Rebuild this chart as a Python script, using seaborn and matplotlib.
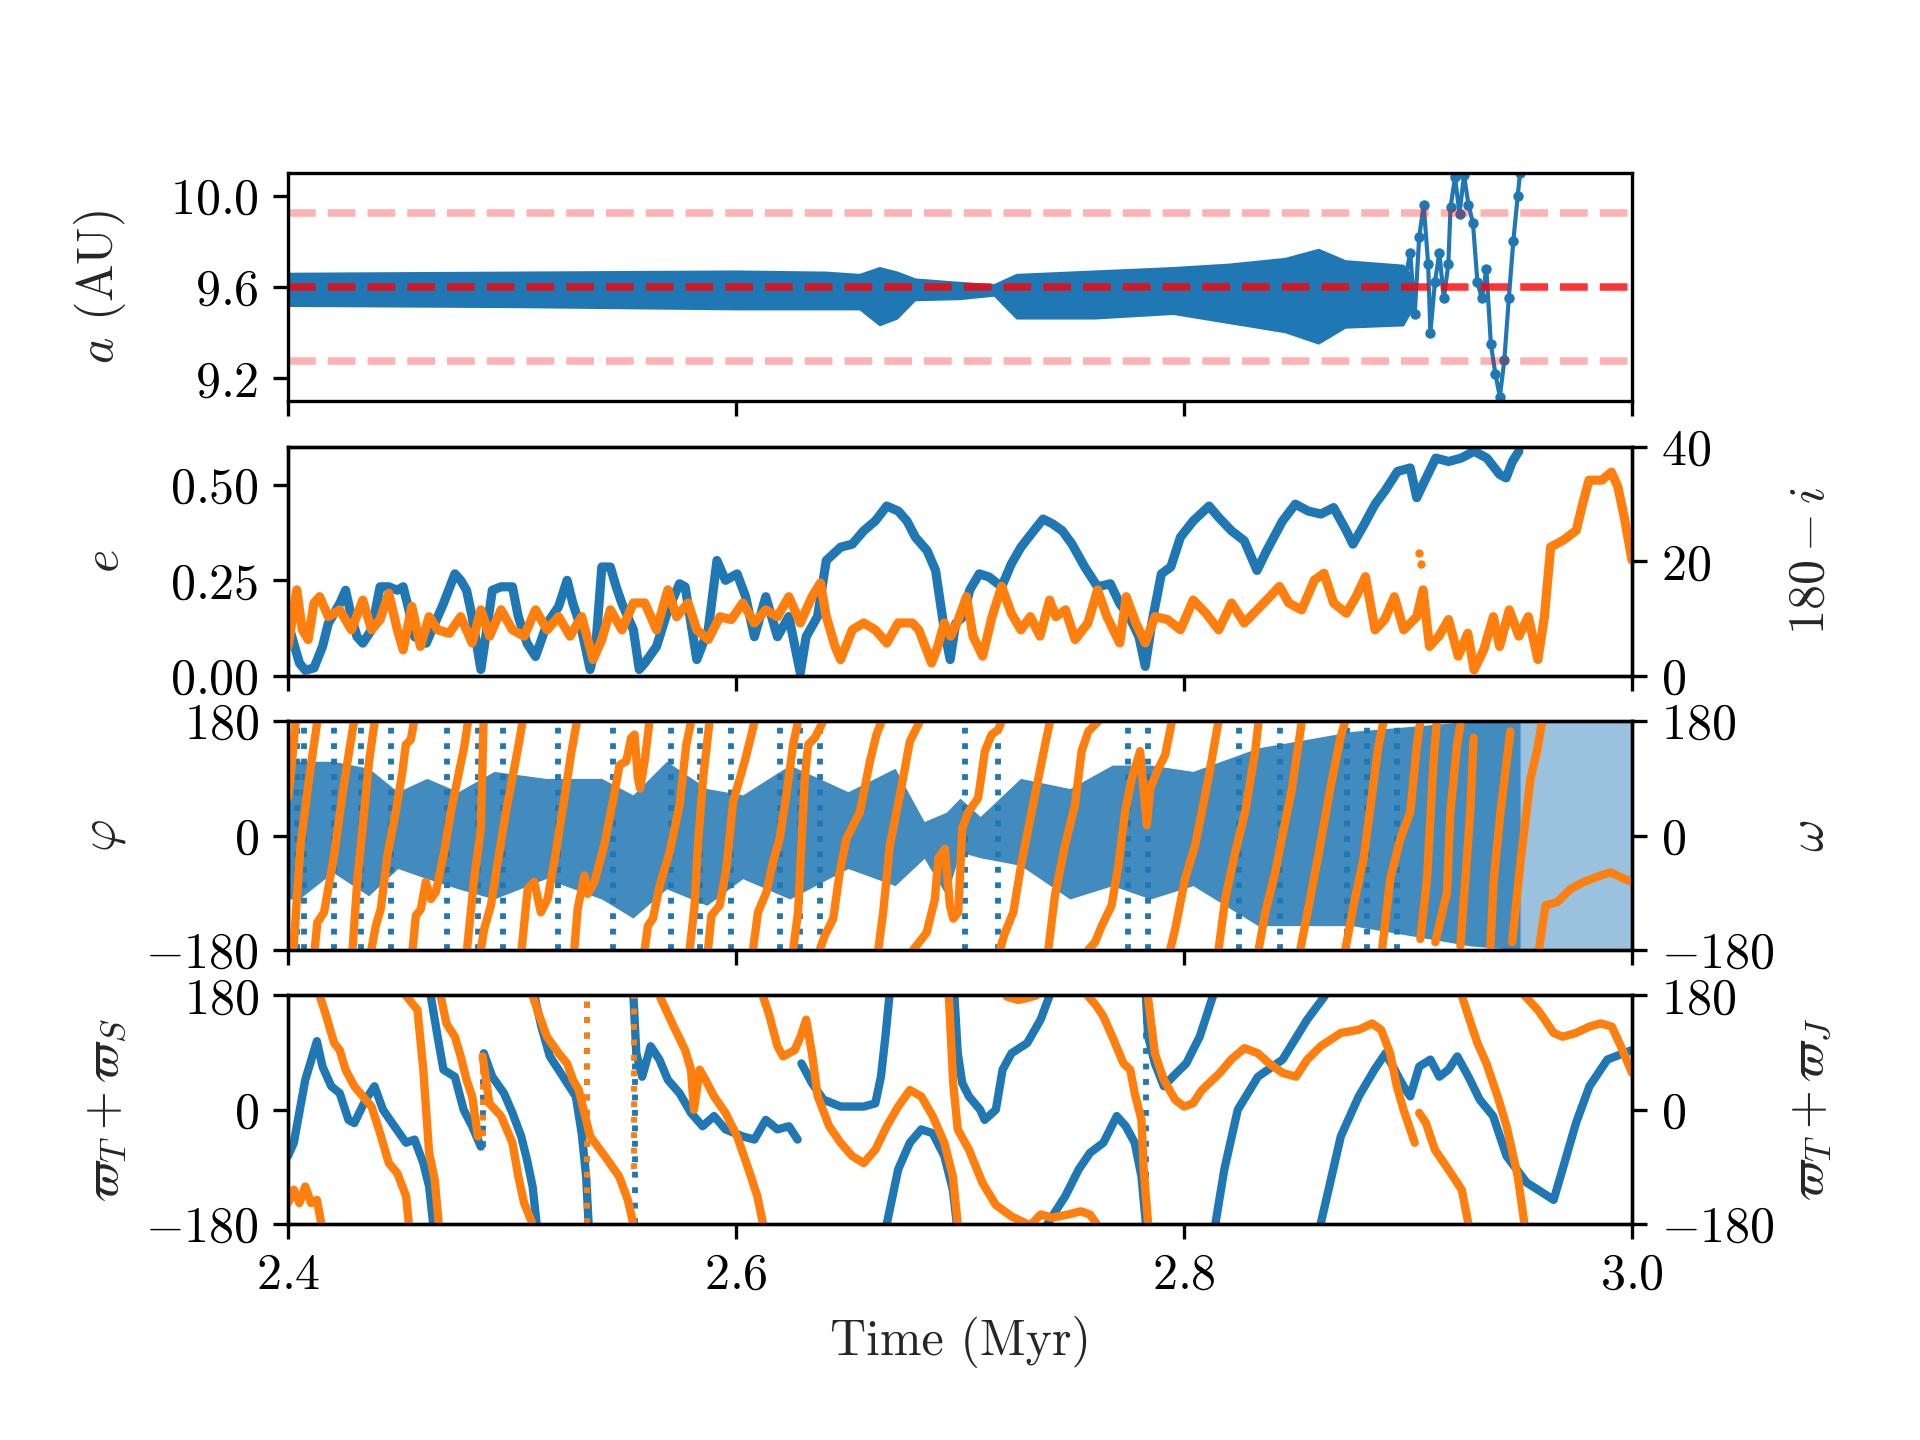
import matplotlib
matplotlib.use("Agg")
import matplotlib.pyplot as plt
import seaborn as sns

BLUE, ORANGE = sns.color_palette("tab10")[:2]

# ---- panel 1: semi-major axis (envelope of the dense oscillation) ----
a_time = [2.400, 2.500, 2.600, 2.640, 2.655, 2.664, 2.672, 2.680, 2.700, 2.715,
          2.725, 2.760, 2.795, 2.820, 2.845, 2.860, 2.872, 2.898, 2.902]
a_upper = [9.665, 9.67, 9.675, 9.67, 9.66, 9.69, 9.67, 9.64, 9.625, 9.615,
           9.66, 9.675, 9.69, 9.705, 9.73, 9.77, 9.72, 9.70, 9.65]
a_lower = [9.515, 9.51, 9.50, 9.50, 9.50, 9.43, 9.46, 9.54, 9.545, 9.56,
           9.46, 9.46, 9.48, 9.44, 9.40, 9.35, 9.42, 9.43, 9.50]
a_chaos_time = [2.898, 2.901, 2.903, 2.905, 2.907, 2.909, 2.910, 2.912, 2.914, 2.916,
                2.918, 2.919, 2.921, 2.923, 2.925, 2.927, 2.929, 2.931, 2.933, 2.935,
                2.937, 2.939, 2.941, 2.943, 2.945, 2.947, 2.949, 2.950]
a_chaos = [9.60, 9.75, 9.48, 9.82, 9.96, 9.70, 9.40, 9.62, 9.75, 9.55,
           9.70, 9.95, 10.08, 9.92, 10.09, 9.96, 9.88, 9.62, 9.55, 9.68,
           9.35, 9.22, 9.12, 9.28, 9.55, 9.80, 10.0, 10.1]
a_res = 9.6
a_res_width = 0.325

# ---- panel 2: eccentricity and 180 - i ----
e_time = [2.4000, 2.4051, 2.4077, 2.4116, 2.4154, 2.4180, 2.4231, 2.4257, 2.4283, 2.4308,
          2.4334, 2.4373, 2.4411, 2.4450, 2.4488, 2.4514, 2.4540, 2.4565, 2.4617, 2.4643,
          2.4694, 2.4745, 2.4771, 2.4797, 2.4822, 2.4861, 2.4887, 2.4912, 2.4951, 2.5002,
          2.5028, 2.5067, 2.5105, 2.5157, 2.5208, 2.5246, 2.5272, 2.5311, 2.5349, 2.5375,
          2.5401, 2.5439, 2.5465, 2.5491, 2.5542, 2.5568, 2.5593, 2.5645, 2.5696, 2.5748,
          2.5773, 2.5825, 2.5876, 2.5915, 2.5953, 2.6005, 2.6043, 2.6082, 2.6133, 2.6185,
          2.6236, 2.6287, 2.6313, 2.6364, 2.6403, 2.6467, 2.6519, 2.6570, 2.6622, 2.6673,
          2.6724, 2.6763, 2.6801, 2.6853, 2.6891, 2.6930, 2.6956, 2.6981, 2.7015, 2.7043,
          2.7086, 2.7129, 2.7186, 2.7229, 2.7272, 2.7329, 2.7371, 2.7414, 2.7457, 2.7500,
          2.7557, 2.7614, 2.7671, 2.7713, 2.7756, 2.7799, 2.7827, 2.7856, 2.7899, 2.7941,
          2.7984, 2.8041, 2.8112, 2.8155, 2.8212, 2.8269, 2.8326, 2.8369, 2.8440, 2.8497,
          2.8554, 2.8611, 2.8668, 2.8725, 2.8754, 2.8797, 2.8853, 2.8896, 2.8953, 2.9010,
          2.9039, 2.9067, 2.9124, 2.9181, 2.9238, 2.9295, 2.9352, 2.9409, 2.9438, 2.9466,
          2.9495]
e_vals = [0.137, 0.033, 0.014, 0.020, 0.076, 0.137, 0.189, 0.224, 0.155, 0.102,
          0.085, 0.120, 0.233, 0.233, 0.224, 0.233, 0.172, 0.102, 0.085, 0.120,
          0.189, 0.267, 0.250, 0.224, 0.155, 0.016, 0.120, 0.224, 0.233, 0.233,
          0.155, 0.085, 0.050, 0.137, 0.181, 0.250, 0.189, 0.120, 0.016, 0.085,
          0.285, 0.285, 0.233, 0.189, 0.120, 0.016, 0.033, 0.076, 0.172, 0.241,
          0.233, 0.042, 0.120, 0.302, 0.250, 0.267, 0.207, 0.102, 0.207, 0.102,
          0.155, 0.007, 0.102, 0.155, 0.302, 0.337, 0.345, 0.380, 0.406, 0.445,
          0.432, 0.406, 0.363, 0.328, 0.276, 0.120, 0.042, 0.137, 0.155, 0.224,
          0.267, 0.259, 0.233, 0.293, 0.337, 0.380, 0.411, 0.398, 0.380, 0.345,
          0.285, 0.233, 0.241, 0.189, 0.155, 0.102, 0.024, 0.137, 0.267, 0.285,
          0.363, 0.406, 0.445, 0.415, 0.380, 0.354, 0.276, 0.328, 0.406, 0.450,
          0.432, 0.424, 0.441, 0.380, 0.345, 0.389, 0.450, 0.484, 0.536, 0.545,
          0.467, 0.502, 0.571, 0.562, 0.571, 0.589, 0.571, 0.528, 0.519, 0.562,
          0.589]
inc_time = [2.4000, 2.4021, 2.4039, 2.4064, 2.4090, 2.4116, 2.4141, 2.4180, 2.4231, 2.4283,
            2.4334, 2.4373, 2.4411, 2.4450, 2.4488, 2.4514, 2.4553, 2.4591, 2.4630, 2.4668,
            2.4720, 2.4771, 2.4822, 2.4861, 2.4900, 2.4951, 2.5002, 2.5054, 2.5105, 2.5157,
            2.5208, 2.5259, 2.5311, 2.5362, 2.5401, 2.5439, 2.5491, 2.5542, 2.5593, 2.5645,
            2.5696, 2.5735, 2.5786, 2.5825, 2.5876, 2.5928, 2.5979, 2.6030, 2.6082, 2.6133,
            2.6185, 2.6236, 2.6287, 2.6339, 2.6377, 2.6403, 2.6442, 2.6467, 2.6519, 2.6570,
            2.6622, 2.6673, 2.6724, 2.6787, 2.6816, 2.6873, 2.6901, 2.6930, 2.6958, 2.6987,
            2.7029, 2.7058, 2.7101, 2.7143, 2.7186, 2.7229, 2.7272, 2.7314, 2.7357, 2.7400,
            2.7428, 2.7471, 2.7514, 2.7571, 2.7614, 2.7656, 2.7713, 2.7742, 2.7785, 2.7827,
            2.7870, 2.7927, 2.7984, 2.8041, 2.8098, 2.8155, 2.8212, 2.8269, 2.8326, 2.8383,
            2.8426, 2.8468, 2.8525, 2.8582, 2.8625, 2.8668, 2.8725, 2.8768, 2.8810, 2.8853,
            2.8896, 2.8939, 2.8981, 2.9039, 2.9067, 2.9096, 2.9138, 2.9181, 2.9224, 2.9267,
            2.9295, 2.9338, 2.9381, 2.9409, 2.9452, 2.9495, 2.9537, 2.9580, 2.9609, 2.9637,
            2.9694, 2.9751, 2.9780, 2.9808, 2.9865, 2.9908, 2.9937, 2.9965, 3.0000]
inc_vals = [5.1, 10.3, 15.0, 8.0, 6.3, 12.7, 13.8, 10.3, 11.5, 8.0,
            13.2, 8.0, 9.8, 14.4, 8.0, 4.5, 12.1, 5.1, 10.3, 8.0,
            7.4, 10.3, 5.7, 11.5, 6.9, 11.5, 8.0, 6.9, 11.5, 8.0,
            10.3, 6.9, 10.3, 2.8, 6.3, 11.5, 8.0, 12.7, 12.7, 8.0,
            15.0, 10.3, 12.7, 8.0, 6.3, 10.3, 9.8, 12.7, 9.2, 11.5,
            10.3, 13.8, 9.2, 13.8, 16.2, 10.3, 5.1, 2.8, 8.0, 9.2,
            8.0, 5.7, 9.2, 9.2, 8.0, 2.2, 5.1, 9.2, 6.9, 9.2,
            13.8, 6.9, 3.4, 10.3, 15.6, 10.9, 8.0, 10.3, 6.9, 13.2,
            10.3, 11.5, 6.3, 9.2, 15.0, 10.3, 5.7, 13.8, 9.2, 5.7,
            10.3, 9.8, 8.0, 13.2, 10.9, 8.0, 12.7, 9.2, 11.5, 13.8,
            15.6, 12.7, 11.5, 16.7, 17.9, 12.7, 10.9, 13.8, 17.3, 8.0,
            9.8, 13.8, 8.0, 10.3, 15.0, 5.1, 6.9, 9.8, 3.4, 7.4,
            1.0, 4.5, 10.3, 5.1, 11.5, 6.9, 10.3, 2.8, 10.3, 22.5,
            23.7, 25.4, 30.1, 34.2, 34.2, 35.6, 33.0, 27.8, 20.2]
inc_stray_time = [2.9050, 2.9058]
inc_stray = [21.5, 19.5]

# ---- panel 3: resonant angle (libration envelope + circulation streaks) and omega ----
phi_time = [2.400, 2.405, 2.420, 2.436, 2.449, 2.462, 2.476, 2.492, 2.515, 2.540,
            2.554, 2.569, 2.587, 2.603, 2.624, 2.650, 2.671, 2.684, 2.694, 2.700,
            2.709, 2.727, 2.749, 2.768, 2.785, 2.804, 2.833, 2.875, 2.928, 2.950]
phi_upper = [117, 117, 117, 106, 69, 90, 69, 101, 90, 90,
             64, 117, 74, 64, 111, 69, 106, 22, 37, 59,
             30, 90, 74, 111, 111, 101, 138, 164, 180, 180]
phi_lower = [-100, -100, -58, -95, -52, -68, -84, -100, -68, -100,
             -130, -84, -110, -68, -100, -52, -79, -36, -95, -26,
             -35, -47, -100, -79, -100, -79, -142, -142, -174, -180]
phi_chaos_time = [2.950, 3.000]
phi_streaks = [2.4042, 2.4071, 2.4206, 2.4325, 2.4459, 2.4712, 2.4846, 2.4958, 2.5204,
               2.5450, 2.5711, 2.5838, 2.5979, 2.6195, 2.6285, 2.6374, 2.7022, 2.7171,
               2.7752, 2.7841, 2.8244, 2.8430, 2.8727, 2.8817, 2.8951]

omega_segments = [
    [(2.400, 60), (2.4009, 82), (2.4034, 180)],
    [(2.4024, -180), (2.4056, -15), (2.4094, 90), (2.4131, 180)],
    [(2.4119, -180), (2.4131, -137), (2.4161, -121), (2.4206, -31), (2.4243, 64), (2.4273, 133), (2.4295, 180)],
    [(2.4288, -180), (2.4310, -68), (2.4340, 37), (2.4362, 117), (2.4387, 180)],
    [(2.4372, -180), (2.4392, -142), (2.4414, -116), (2.4444, -31), (2.4481, 37), (2.4511, 101),
     (2.4526, 143), (2.4548, 151), (2.4563, 180)],
    [(2.4556, -180), (2.4571, -126), (2.4593, -116), (2.4615, -73), (2.4638, -100), (2.4660, -89),
     (2.4697, -26), (2.4727, 37), (2.4764, 101), (2.4786, 138), (2.4804, 180)],
    [(2.4799, -180), (2.4831, -68), (2.4861, 11), (2.4873, 180)],
    [(2.4861, -180), (2.4876, -147), (2.4906, -110), (2.4936, -42), (2.4973, 37), (2.5010, 106),
     (2.5032, 148), (2.5047, 180)],
    [(2.5043, -180), (2.5070, -84), (2.5099, -73), (2.5129, -121), (2.5159, -100), (2.5196, -26),
     (2.5234, 59), (2.5263, 127), (2.5290, 180)],
    [(2.5278, -180), (2.5293, -116), (2.5323, -63), (2.5338, -92), (2.5368, -73), (2.5412, -15),
     (2.5450, 53), (2.5480, 111), (2.5510, 117), (2.5532, 154), (2.5547, 159), (2.5562, 90),
     (2.5572, 74), (2.5592, 117), (2.5614, 180)],
    [(2.5592, -180), (2.5607, -142), (2.5629, -131), (2.5659, -79), (2.5704, -26), (2.5748, 48),
     (2.5778, 143), (2.5800, 180)],
    [(2.5793, -180), (2.5815, -110), (2.5830, -15), (2.5853, 90), (2.5882, 180)],
    [(2.5875, -180), (2.5890, -126), (2.5927, -110), (2.5957, -52), (2.5987, 53), (2.6039, 117),
     (2.6069, 159), (2.6083, 180)],
    [(2.6076, -180), (2.6098, -121), (2.6136, -89), (2.6165, -42), (2.6195, -5), (2.6225, 64),
     (2.6255, 143), (2.6277, 180)],
    [(2.6255, -180), (2.6277, -121), (2.6292, -15), (2.6307, 90), (2.6322, 143), (2.6352, 154),
     (2.6374, 169), (2.6389, 180)],
    [(2.6374, -180), (2.6396, -158), (2.6434, -131), (2.6463, -58), (2.6493, -5), (2.6553, 37),
     (2.6598, 117), (2.6627, 159), (2.6650, 180)],
    [(2.6635, -180), (2.6657, -121), (2.6687, -15), (2.6732, 64), (2.6776, 148), (2.6821, 180)],
    [(2.6791, -180), (2.6851, -153), (2.6888, -100), (2.6903, -36), (2.6933, -21), (2.6955, -110),
     (2.6970, -131), (2.6992, -121), (2.7010, 11), (2.7037, 37), (2.7081, 59), (2.7111, 133),
     (2.7141, 159), (2.7171, 167), (2.7186, 180)],
    [(2.7178, -180), (2.7201, -153), (2.7238, -121), (2.7275, -42), (2.7335, 64), (2.7380, 143), (2.7402, 180)],
    [(2.7394, -180), (2.7424, -94), (2.7469, -15), (2.7513, 48), (2.7543, 133), (2.7573, 164),
     (2.7603, 175), (2.7618, 180)],
    [(2.7573, -180), (2.7603, -168), (2.7633, -142), (2.7677, -110), (2.7707, -47), (2.7737, 37),
     (2.7767, 90), (2.7804, 133), (2.7834, 16), (2.7849, 74), (2.7886, 106), (2.7916, 127), (2.7946, 180)],
    [(2.7938, -180), (2.7961, -147), (2.8005, -68), (2.8050, -15), (2.8109, 90), (2.8154, 180)],
    [(2.8154, -180), (2.8184, -100), (2.8229, -26), (2.8273, 37), (2.8318, 133), (2.8333, 180)],
    [(2.8333, -180), (2.8363, -121), (2.8407, -58), (2.8452, 22), (2.8480, 70), (2.8504, 127), (2.8526, 180)],
    [(2.8519, -180), (2.8563, -100), (2.8608, -15), (2.8653, 74), (2.8698, 154), (2.8720, 180)],
    [(2.8720, -180), (2.8757, -110), (2.8802, -36), (2.8839, 64), (2.8869, 143), (2.8891, 180)],
    [(2.8884, -180), (2.8921, -68), (2.8966, -5), (2.9010, 37), (2.9040, 143), (2.9055, 180)],
    [(2.9055, -163), (2.9085, -68), (2.9114, 117), (2.9129, 180)],
    [(2.9122, -168), (2.9174, -89), (2.9189, 37), (2.9219, 143), (2.9234, 175)],
    [(2.9234, -174), (2.9278, 37), (2.9293, 154)],
    [(2.9368, -174), (2.9383, -68), (2.9413, 37), (2.9457, 164)],
    [(2.9465, -168), (2.9502, -42), (2.9547, 90), (2.9576, 133), (2.9599, 180)],
    [(2.9584, -180), (2.9614, -110), (2.9666, -105), (2.9726, -84), (2.9785, -73), (2.9860, -63),
     (2.9904, -58), (2.9964, -68), (3.0, -73)],
]

# ---- panel 4: varpi_T + varpi_S (blue) and varpi_T + varpi_J (orange) ----
pomS_segments = [
    [(2.4, -73), (2.4026, -52), (2.4077, 47), (2.4129, 108), (2.4154, 68), (2.4193, 37), (2.4231, 26),
     (2.4270, -16), (2.4296, -21), (2.4347, 16), (2.4386, 37), (2.4424, 0), (2.4475, -26), (2.4527, -52),
     (2.4565, -47), (2.4604, -84), (2.4630, -121), (2.4648, -180)],
    [(2.4637, 180), (2.4668, 115), (2.4694, 63), (2.4745, 52), (2.4784, 0), (2.4822, -26), (2.4861, -58)],
    [(2.4874, 89), (2.4912, 52), (2.4964, 26), (2.5002, -5), (2.5041, -42), (2.5067, -79), (2.5092, -121),
     (2.5110, -180)],
    [(2.5100, 180), (2.5131, 131), (2.5169, 84), (2.5208, 63), (2.5246, 42), (2.5285, 21), (2.5311, -37),
     (2.5331, -105), (2.5342, -180)],
    [(2.5542, 180), (2.5555, 89), (2.5581, 52), (2.5619, 100), (2.5658, 79), (2.5696, 47), (2.5748, 26),
     (2.5799, -5), (2.5851, -26), (2.5902, -10), (2.5953, -31), (2.6030, -42), (2.6082, -47), (2.6133, -16),
     (2.6185, -31), (2.6236, -26), (2.6275, -47)],
    [(2.6292, 73), (2.6339, 42), (2.6390, 16), (2.6467, 5), (2.6570, 5), (2.6622, 10), (2.6647, 52),
     (2.6667, 115), (2.6685, 180)],
    [(2.6673, -180), (2.6724, -94), (2.6776, -52), (2.6827, -31), (2.6878, -37), (2.6930, -73),
     (2.6968, -126), (2.6986, -180)],
    [(2.6975, 180), (2.6990, 89), (2.7010, 42), (2.7040, 21), (2.7090, 0), (2.7110, -16), (2.7160, 0),
     (2.7190, 63), (2.7230, 89), (2.7300, 105), (2.7360, 142), (2.7400, 180)],
    [(2.7390, -180), (2.7470, -136), (2.7530, -94), (2.7580, -68), (2.7640, -52), (2.7700, -10),
     (2.7740, -26), (2.7780, -52), (2.7810, -105), (2.7830, -180)],
    [(2.7830, 180), (2.7840, 115), (2.7870, 73), (2.7910, 37), (2.7950, 52), (2.8010, 73), (2.8070, 115),
     (2.8130, 180)],
    [(2.8140, -180), (2.8180, -94), (2.8240, 0), (2.8330, 52), (2.8440, 79), (2.8550, 142), (2.8630, 180)],
    [(2.8610, -180), (2.8700, -42), (2.8780, 21), (2.8850, 63), (2.8900, 89), (2.8940, 63), (2.8980, 37),
     (2.9010, 21), (2.9050, 68), (2.9100, 79), (2.9140, 52), (2.9180, 63), (2.9220, 84), (2.9270, 52),
     (2.9320, 16), (2.9380, -10), (2.9440, -73), (2.9530, -115), (2.9580, -126), (2.9650, -142),
     (2.9690, -94), (2.9750, -21), (2.9810, 37), (2.9890, 79), (3.0, 94)],
]
pomJ_segments = [
    [(2.4, -147), (2.4026, -126), (2.4051, -147), (2.4077, -121), (2.4103, -147), (2.4129, -142), (2.4149, -180)],
    [(2.4141, 180), (2.4167, 152), (2.4206, 105), (2.4231, 94), (2.4257, 63), (2.4296, 37), (2.4334, 21),
     (2.4373, 5), (2.4411, -37), (2.4450, -84), (2.4488, -100), (2.4527, -136), (2.4540, -180)],
    [(2.4527, 180), (2.4553, 168), (2.4578, 157), (2.4604, 63), (2.4630, -68), (2.4655, -110), (2.4673, -180)],
    [(2.4681, 180), (2.4707, 136), (2.4745, 115), (2.4771, 84), (2.4797, 47), (2.4822, 21), (2.4848, -42)],
    [(2.4869, 84), (2.4899, 10), (2.4951, -10), (2.5002, -52), (2.5028, -105), (2.5054, -147), (2.5092, -180)],
    [(2.5092, 180), (2.5118, 152), (2.5156, 115), (2.5208, 89), (2.5246, 73), (2.5272, 47), (2.5298, 31),
     (2.5349, -42), (2.5414, -73), (2.5478, -105), (2.5517, -142), (2.5542, -180)],
    [(2.5658, 180), (2.5722, 131), (2.5773, 94), (2.5799, 63), (2.5812, 0), (2.5838, 63), (2.5864, 47),
     (2.5902, 21), (2.5953, -5), (2.6005, -42), (2.6056, -94), (2.6095, -136), (2.6121, -180)],
    [(2.6121, 178), (2.6146, 152), (2.6185, 100), (2.6210, 84), (2.6262, 94), (2.6288, 115), (2.6313, 142),
     (2.6339, 89), (2.6365, 21), (2.6416, -26), (2.6467, -52), (2.6519, -73), (2.6570, -84), (2.6622, -63),
     (2.6673, -26), (2.6724, 5), (2.6776, 31), (2.6827, 21), (2.6878, -10), (2.6930, -52), (2.6968, -105),
     (2.6990, -180)],
    [(2.6950, 180), (2.6970, 40), (2.6990, -31), (2.7040, -63), (2.7100, -115), (2.7160, -150),
     (2.7230, -168), (2.7300, -180)],
    [(2.7320, -180), (2.7360, -165), (2.7410, -170), (2.7470, -166), (2.7540, -160), (2.7580, -165), (2.7610, -180)],
    [(2.7210, 178), (2.7260, 173), (2.7300, 176), (2.7340, 180)],
    [(2.7570, 180), (2.7610, 163), (2.7640, 147), (2.7680, 115), (2.7730, 73), (2.7760, 63), (2.7780, 26),
     (2.7810, -16), (2.7820, -94), (2.7840, -180)],
    [(2.7840, 175), (2.7870, 89), (2.7910, 47), (2.7960, 16), (2.8000, 5), (2.8040, 10), (2.8080, 31),
     (2.8160, 58), (2.8210, 79), (2.8270, 97), (2.8330, 89), (2.8380, 73), (2.8440, 58), (2.8500, 52),
     (2.8550, 79), (2.8610, 100), (2.8700, 121), (2.8780, 126), (2.8840, 136), (2.8880, 126), (2.8920, 89),
     (2.8950, 37), (2.8980, 0), (2.9010, -31), (2.9030, -52)],
    [(2.9050, -5), (2.9080, -21), (2.9120, -63), (2.9180, -94), (2.9240, -126), (2.9270, -180)],
    [(2.9240, 180), (2.9270, 147), (2.9310, 105), (2.9350, 73), (2.9400, 21), (2.9440, -26), (2.9470, -73),
     (2.9490, -105), (2.9520, -180)],
    [(2.9520, 180), (2.9580, 157), (2.9610, 142), (2.9650, 121), (2.9690, 115), (2.9750, 121), (2.9810, 131),
     (2.9860, 136), (2.9910, 131), (2.9950, 100), (3.0, 58)],
]
# fast transits drawn as dotted vertical streaks: (time, bottom, top)
pomS_streaks = [(2.4869, -58, 89), (2.5336, -180, 180), (2.5548, -180, 180), (2.7830, -180, 180)]
pomJ_streaks = [(2.4869, -42, 84), (2.5336, -180, 180), (2.5545, -94, 180)]

xticks = [2.4, 2.6, 2.8, 3.0]

sns.set_theme(style="ticks", rc={
    "axes.edgecolor": "black", "axes.linewidth": 0.8,
    "xtick.color": "black", "ytick.color": "black",
    "xtick.major.size": 3.5, "ytick.major.size": 3.5,
    "xtick.major.width": 0.8, "ytick.major.width": 0.8,
    "xtick.labelsize": 12, "ytick.labelsize": 12, "axes.labelsize": 12,
})
plt.rcParams["font.family"] = ["cmr10"]
plt.rcParams["mathtext.fontset"] = "cm"
plt.rcParams["axes.formatter.use_mathtext"] = True


def draw_segments(ax, segments, color):
    for seg in segments:
        t = [p[0] for p in seg]
        v = [p[1] for p in seg]
        sns.lineplot(x=t, y=v, ax=ax, color=color, linewidth=2, sort=False,
                     estimator=None, errorbar=None)


def draw_streaks(ax, streaks, color):
    for t, lo, hi in streaks:
        ax.vlines(t, lo, hi, color=color, lw=1.4, linestyles=":")


fig, axes = plt.subplots(4, 1, sharex=True, figsize=(6.4, 4.8), dpi=300)
fig.subplots_adjust(left=0.15, right=0.85, top=0.88, bottom=0.15, hspace=0.2)
ax1, ax2, ax3, ax4 = axes

# panel 1
ax1.fill_between(a_time, a_lower, a_upper, color=BLUE, lw=0)
sns.lineplot(x=a_chaos_time, y=a_chaos, ax=ax1, color=BLUE, linewidth=1.0, marker="o",
             markersize=2.5, markeredgewidth=0, sort=False, estimator=None, errorbar=None)
ax1.axhline(a_res, color="red", alpha=0.8, ls="--", lw=1.8)
ax1.axhline(a_res + a_res_width, color="red", alpha=0.3, ls="--", lw=1.8)
ax1.axhline(a_res - a_res_width, color="red", alpha=0.3, ls="--", lw=1.8)
ax1.set_ylim(9.1, 10.1)
ax1.set_yticks([9.2, 9.6, 10.0])
ax1.set_ylabel("$a$ (AU)")

# panel 2
sns.lineplot(x=e_time, y=e_vals, ax=ax2, color=BLUE, linewidth=2.2, sort=False,
             estimator=None, errorbar=None)
ax2.set_ylim(0, 0.6)
ax2.set_yticks([0, 0.25, 0.5])
ax2.set_ylabel("$e$")
tw2 = ax2.twinx()
sns.lineplot(x=inc_time, y=inc_vals, ax=tw2, color=ORANGE, linewidth=2.2, sort=False,
             estimator=None, errorbar=None)
tw2.scatter(inc_stray_time, inc_stray, color=ORANGE, s=4, lw=0)
tw2.set_ylim(0, 40)
tw2.set_yticks([0, 20, 40])
tw2.set_ylabel("$180 - i$", labelpad=3)

# panel 3
ax3.fill_between(phi_time, phi_lower, phi_upper, color=BLUE, alpha=0.85, lw=0)
ax3.fill_between(phi_chaos_time, [-180, -180], [180, 180], color=BLUE, alpha=0.45, lw=0)
ax3.vlines(phi_streaks, -180, 180, color=BLUE, lw=1.4, linestyles=":")
ax3.set_ylim(-180, 180)
ax3.set_yticks([-180, 0, 180])
ax3.set_ylabel(r"$\varphi$")
tw3 = ax3.twinx()
draw_segments(tw3, omega_segments, ORANGE)
tw3.set_ylim(-180, 180)
tw3.set_yticks([-180, 0, 180])
tw3.set_ylabel(r"$\omega$", labelpad=3)

# panel 4
draw_segments(ax4, pomS_segments, BLUE)
draw_streaks(ax4, pomS_streaks, BLUE)
ax4.set_ylim(-180, 180)
ax4.set_yticks([-180, 0, 180])
ax4.set_ylabel(r"$\varpi_T + \varpi_S$")
tw4 = ax4.twinx()
draw_segments(tw4, pomJ_segments, ORANGE)
draw_streaks(tw4, pomJ_streaks, ORANGE)
tw4.set_ylim(-180, 180)
tw4.set_yticks([-180, 0, 180])
tw4.set_ylabel(r"$\varpi_T + \varpi_J$", labelpad=3)

ax4.set_xlim(2.4, 3.0)
ax4.set_xticks(xticks)
ax4.set_xlabel("Time (Myr)")
for ax in axes:
    ax.set_xlim(2.4, 3.0)

fig.align_ylabels([ax1, ax2, ax3, ax4, tw2, tw3, tw4])
fig.savefig("out.png", dpi=300)
